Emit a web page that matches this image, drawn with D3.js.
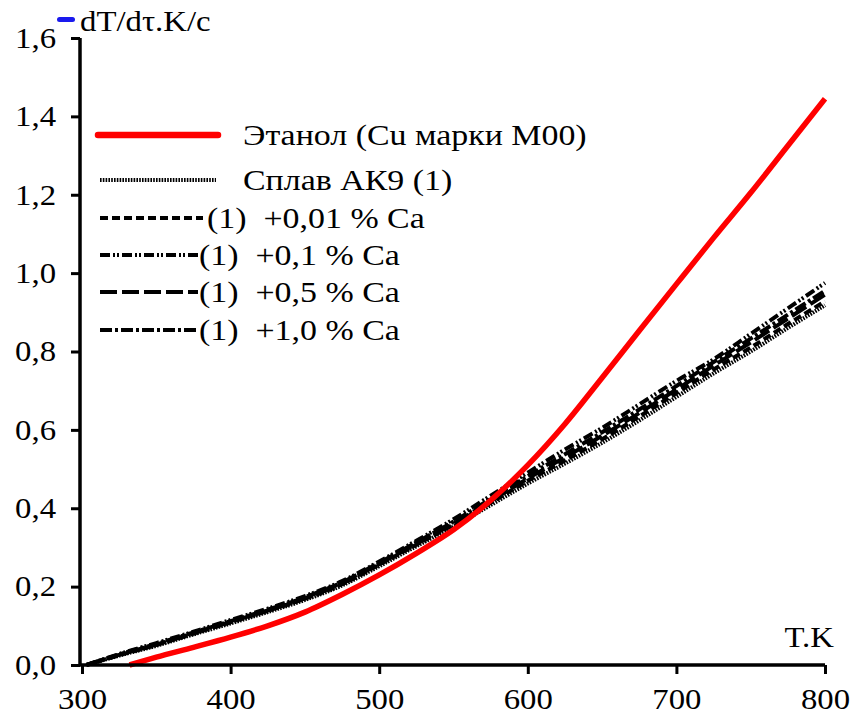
<!DOCTYPE html>
<html>
<head>
<meta charset="utf-8">
<script src="https://cdn.jsdelivr.net/npm/d3@7"></script>
<style>
  html, body { margin: 0; padding: 0; background: #fff; }
  svg { display: block; }
  svg text { font-family: "Liberation Serif", "Times New Roman", Tinos, "DejaVu Serif", serif; fill: #000; white-space: pre; }
</style>
</head>
<body>
<svg id="chart" width="856" height="725"></svg>
<script>
// Heating rate dT/dτ versus temperature for the AK9 alloy with calcium additions
const xTicks = [300, 400, 500, 600, 700, 800];
const yTicks = [0, 0.2, 0.4, 0.6, 0.8, 1.0, 1.2, 1.4, 1.6];

const tEthanol = [332, 350, 375, 400, 425, 450, 475, 500, 525, 550, 575, 600, 625, 650, 675, 700, 725, 750, 775, 800];
const vEthanol = [0, 0.02, 0.045, 0.071, 0.1, 0.135, 0.18, 0.23, 0.285, 0.345, 0.42, 0.51, 0.615, 0.733, 0.853, 0.972, 1.09, 1.205, 1.325, 1.445];

const tAlloy = [303, 325, 350, 375, 400, 425, 450, 475, 500, 525, 550, 575, 600, 625, 650, 675, 700, 725, 750, 775, 800];
const vAK9    = [0, 0.024, 0.049, 0.078, 0.106, 0.135, 0.166, 0.203, 0.252, 0.303, 0.353, 0.408, 0.463, 0.514, 0.567, 0.624, 0.684, 0.744, 0.8, 0.86, 0.918];
const vCa001  = [0, 0.025, 0.051, 0.08, 0.109, 0.138, 0.169, 0.206, 0.256, 0.307, 0.358, 0.414, 0.47, 0.522, 0.576, 0.634, 0.694, 0.754, 0.81, 0.87, 0.928];
const vCa01   = [0, 0.028, 0.056, 0.085, 0.115, 0.144, 0.176, 0.214, 0.264, 0.317, 0.372, 0.432, 0.491, 0.55, 0.605, 0.665, 0.725, 0.78, 0.845, 0.91, 0.975];
const vCa05   = [0, 0.026, 0.052, 0.081, 0.11, 0.139, 0.17, 0.208, 0.258, 0.309, 0.361, 0.418, 0.476, 0.53, 0.585, 0.643, 0.703, 0.764, 0.823, 0.884, 0.945];
const vCa10   = [0, 0.027, 0.054, 0.083, 0.112, 0.141, 0.173, 0.211, 0.261, 0.313, 0.366, 0.424, 0.482, 0.538, 0.594, 0.652, 0.712, 0.773, 0.833, 0.894, 0.955];

const seriesNames = [
  "Этанол (Cu марки M00)",
  "Сплав АК9 (1)",
  "(1)  +0,01 % Ca",
  "(1)  +0,1 % Ca",
  "(1)  +0,5 % Ca",
  "(1)  +1,0 % Ca"
];

const series = [
  { name: seriesNames[0], t: tEthanol, v: vEthanol, color: "#ff0000", width: 5.5, dash: null },
  { name: seriesNames[1], t: tAlloy, v: vAK9,  color: "#000", width: 4, dash: "1.6,1.2" },
  { name: seriesNames[2], t: tAlloy, v: vCa001, color: "#000", width: 4, dash: "8,4" },
  { name: seriesNames[3], t: tAlloy, v: vCa01,  color: "#000", width: 4, dash: "10,3,2,2,2,3" },
  { name: seriesNames[4], t: tAlloy, v: vCa05,  color: "#000", width: 4, dash: "17,5" },
  { name: seriesNames[5], t: tAlloy, v: vCa10,  color: "#000", width: 4, dash: "12,3,3,3" }
];

const FONT = '"Liberation Serif", "Times New Roman", Tinos, "DejaVu Serif", serif';
const STRETCH = 1.13; // the lettering is set slightly wide

const svg = d3.select("#chart");
const x = d3.scaleLinear().domain([300, 800]).range([82, 825]);
const y = d3.scaleLinear().domain([0, 1.6]).range([665, 38]);
const fmt = d => d3.format(".1f")(d).replace(".", ",");

// Curves (drawn first so the axes sit on top)
const line = d3.line().x(d => x(d[0])).y(d => y(d[1])).curve(d3.curveMonotoneX);
const drawOrder = [1, 2, 4, 5, 3, 0];
drawOrder.forEach(i => {
  const s = series[i];
  svg.append("path")
    .datum(s.t.map((t, k) => [t, s.v[k]]))
    .attr("d", line)
    .attr("fill", "none")
    .attr("stroke", s.color)
    .attr("stroke-width", s.width)
    .attr("stroke-dasharray", s.dash)
    .attr("stroke-linecap", "butt");
});

// Axes
const xAxis = svg.append("g").attr("transform", `translate(0,${y(0)})`)
  .call(d3.axisBottom(x).tickValues(xTicks).tickSize(9).tickSizeOuter(0).tickPadding(14).tickFormat(d3.format("d")));
const yAxis = svg.append("g").attr("transform", `translate(80,0)`)
  .call(d3.axisLeft(y).tickValues(yTicks).tickSize(9).tickSizeOuter(0).tickPadding(15).tickFormat(fmt));

[xAxis, yAxis].forEach(g => {
  g.attr("font-family", FONT);
  g.select(".domain").attr("stroke", "#000").attr("stroke-width", 3.5);
  g.selectAll(".tick line").attr("stroke", "#000").attr("stroke-width", 3);
  g.selectAll(".tick text").style("font-size", "29px").attr("fill", "#000");
});
xAxis.select(".domain").attr("d", `M${80},0H${x(800)}`);
yAxis.select(".domain").attr("d", `M0,${y(0)}V${y(1.6)}`);

// Axis titles
svg.append("rect").attr("x", 57).attr("y", 17).attr("width", 18).attr("height", 5)
  .attr("rx", 2.5).attr("fill", "#1a1aee");
svg.append("text").attr("x", 80).attr("y", 31).style("font-size", "29px").text("dT/dτ.K/c");
svg.append("text").attr("x", 834).attr("y", 647).attr("text-anchor", "end")
  .style("font-size", "29px").text("T.K");

// Legend
const legendRows = [
  { y: 135, x1: 98,  x2: 218, tx: 243 },
  { y: 180, x1: 100, x2: 216, tx: 243 },
  { y: 218, x1: 100, x2: 203, tx: 207 },
  { y: 255, x1: 100, x2: 198, tx: 199 },
  { y: 292, x1: 100, x2: 198, tx: 199 },
  { y: 330, x1: 100, x2: 198, tx: 199 }
];
series.forEach((s, i) => {
  const r = legendRows[i];
  svg.append("line")
    .attr("x1", r.x1).attr("x2", r.x2).attr("y1", r.y).attr("y2", r.y)
    .attr("stroke", s.color)
    .attr("stroke-width", i === 0 ? 6.5 : 4)
    .attr("stroke-linecap", i === 0 ? "round" : "butt")
    .attr("stroke-dasharray", s.dash);
  svg.append("text").attr("x", r.tx).attr("y", r.y + 10)
    .style("font-size", "30px").text(s.name);
});

// Widen every label a little, keeping its anchor
svg.selectAll("text").each(function () {
  const w = this.getComputedTextLength();
  if (w > 0) {
    d3.select(this)
      .attr("textLength", w * STRETCH)
      .attr("lengthAdjust", "spacingAndGlyphs");
  }
});
</script>
</body>
</html>
